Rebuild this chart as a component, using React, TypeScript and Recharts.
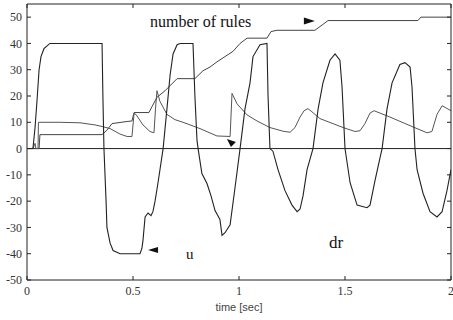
import { LineChart, Line, XAxis, YAxis, ReferenceLine, ReferenceDot } from 'recharts';

// control signal u (saturated at +/-40, then oscillating)
const uTime = [0, 0.028, 0.038, 0.047, 0.057, 0.066, 0.08, 0.108, 0.344, 0.354, 0.358, 0.363, 0.373, 0.377, 0.392, 0.406, 0.439, 0.533, 0.542, 0.547, 0.557, 0.571, 0.585, 0.594, 0.604, 0.618, 0.642, 0.66, 0.675, 0.689, 0.708, 0.722, 0.783, 0.792, 0.802, 0.807, 0.825, 0.849, 0.868, 0.887, 0.91, 0.92, 0.934, 0.958, 0.981, 1.005, 1.028, 1.052, 1.066, 1.099, 1.132, 1.137, 1.146, 1.16, 1.184, 1.217, 1.25, 1.274, 1.288, 1.302, 1.321, 1.349, 1.373, 1.396, 1.429, 1.453, 1.476, 1.486, 1.5, 1.524, 1.557, 1.604, 1.618, 1.642, 1.665, 1.675, 1.698, 1.722, 1.759, 1.783, 1.807, 1.816, 1.83, 1.84, 1.868, 1.901, 1.934, 1.958, 1.981, 2.0];
const uValues = [0, 0, 8, 18, 30, 35, 38, 40, 40, 40, 20, 0, -20, -30, -36, -38.8, -40, -40, -38, -35, -26, -24.5, -25.5, -24, -20, -13, 0, 15, 28, 36, 39.5, 40, 40, 20, 3, 0, -9.5, -13.3, -18, -23.6, -27, -33, -32, -29, -15, 0, 15, 25, 35, 39.5, 40, 20, 0, -1, -8, -16, -21.5, -24, -23, -18, -8, 0, 15, 25, 33.6, 36, 33.6, 23.5, 0, -13, -21.5, -22.5, -21.5, -12, -3.5, 0, 15, 25, 32, 32.7, 31, 23.5, 0, -8, -17, -24, -26, -24, -16, -8];

// dr (sawtooth)
const drTime = [0, 0.028, 0.038, 0.042, 0.052, 0.054, 0.156, 0.25, 0.321, 0.354, 0.392, 0.439, 0.472, 0.495, 0.505, 0.514, 0.547, 0.58, 0.599, 0.606, 0.613, 0.627, 0.66, 0.698, 0.736, 0.816, 0.896, 0.958, 0.967, 0.991, 1.038, 1.085, 1.146, 1.208, 1.241, 1.264, 1.288, 1.307, 1.325, 1.344, 1.382, 1.491, 1.547, 1.571, 1.594, 1.618, 1.637, 1.712, 1.807, 1.887, 1.91, 1.934, 1.958, 1.976, 2.0];
const drValues = [0, 0, 2, 0, 0, 10, 10, 9.8, 9, 8.4, 7.6, 5.5, 4.6, 4.6, 13.3, 13, 9, 6.5, 6, 15, 22, 18, 13, 11, 10, 7.6, 4.8, 4.6, 21, 17, 12.8, 10.5, 8, 6.6, 6.2, 8, 12, 14.4, 15.2, 14, 11.4, 8, 6.5, 6.8, 9.5, 13.5, 14.4, 12, 8.7, 6, 6.5, 13, 16.3, 15.5, 14.4];

// number of rules
const rulesTime = [0, 0.057, 0.061, 0.354, 0.377, 0.401, 0.472, 0.495, 0.505, 0.575, 0.59, 0.613, 0.651, 0.708, 0.792, 0.83, 0.863, 0.896, 0.934, 0.972, 1.005, 1.038, 1.132, 1.151, 1.179, 1.358, 1.392, 1.42, 1.844, 1.858, 2.0];
const rulesValues = [0, 0, 5.3, 5.3, 7, 9.5, 10.3, 10.5, 13.7, 13.7, 16, 19.5, 22, 26.6, 26.6, 29.6, 31, 33, 35, 37, 40, 42, 42, 44.5, 45, 45, 47, 48.7, 48.7, 50, 50];

const xTicks = [0, 0.5, 1, 1.5, 2];
const xTickLabels = ['0', '0.5', '1', '1.5', '2'];
const yTicks = [-50, -40, -30, -20, -10, 0, 10, 20, 30, 40, 50];

const uData = uTime.map((t, i) => ({ t, v: uValues[i] }));
const drData = drTime.map((t, i) => ({ t, v: drValues[i] }));
const rulesData = rulesTime.map((t, i) => ({ t, v: rulesValues[i] }));

const tickFont = { fontFamily: 'Liberation Serif', fontSize: 12, fill: '#333' };

const LeftTick = (props: any) => {
  const { x, y, payload } = props;
  const ax = x + 5;
  return (
    <g>
      <line x1={ax} x2={ax + 4} y1={y} y2={y} stroke="#222" />
      <text x={x} y={y} dy="0.35em" textAnchor="end" {...tickFont}>{payload.value}</text>
    </g>
  );
};

const RightTick = (props: any) => {
  const { x, y } = props;
  return <line x1={x} x2={x - 4} y1={y} y2={y} stroke="#222" />;
};

const TopTick = (props: any) => {
  const { x, y } = props;
  return <line x1={x} x2={x} y1={y} y2={y + 4} stroke="#222" />;
};

const BottomTick = (props: any) => {
  const { x, y, payload, index } = props;
  const ay = y - 6;
  return (
    <g>
      <line x1={x} x2={x} y1={ay} y2={ay - 4} stroke="#222" />
      <text x={x} y={y} dy="0.71em" textAnchor="middle" {...tickFont}>{xTickLabels[index] ?? payload.value}</text>
    </g>
  );
};

const Triangle = (pts: number[][]) => (props: any) => {
  const { cx, cy } = props;
  const d = pts.map(([a, b]) => `${cx + a},${cy + b}`).join(' ');
  return <polygon points={d} fill="#111" />;
};

const Label = (text: string, size: number) => (props: any) => {
  const { cx, cy } = props;
  return (
    <text x={cx} y={cy} fontFamily="Liberation Serif" fontSize={size} fill="#111">
      {text}
    </text>
  );
};

export default function App() {
  return (
    <div style={{ position: 'absolute', left: 0, top: 0, background: '#fff' }}>
      <LineChart width={453} height={320} margin={{ top: 0, right: 0, bottom: 0, left: 0 }}>
        <XAxis
          dataKey="t"
          type="number"
          domain={[0, 2]}
          ticks={xTicks}
          height={40}
          tickSize={3}
          tickMargin={3}
          tickLine={false}
          axisLine={{ stroke: '#222' }}
          tick={<BottomTick />}
          interval={0}
          allowDataOverflow
          label={{ value: 'time [sec]', position: 'insideBottom', offset: 9, fontFamily: 'Liberation Sans', fontSize: 11, fill: '#444' }}
        />
        <XAxis
          xAxisId="top"
          dataKey="t"
          type="number"
          orientation="top"
          domain={[0, 2]}
          ticks={xTicks}
          height={4}
          tickSize={0}
          tickMargin={0}
          tickLine={false}
          axisLine={{ stroke: '#222' }}
          tick={<TopTick />}
          interval={0}
          allowDataOverflow
        />
        <YAxis
          type="number"
          domain={[-50, 55]}
          ticks={yTicks}
          width={27}
          tickSize={3}
          tickMargin={2}
          tickLine={false}
          axisLine={{ stroke: '#222' }}
          tick={<LeftTick />}
          interval={0}
          allowDataOverflow
        />
        <YAxis
          yAxisId="right"
          orientation="right"
          type="number"
          domain={[-50, 55]}
          ticks={yTicks}
          width={2}
          tickSize={0}
          tickMargin={0}
          tickLine={false}
          axisLine={{ stroke: '#222' }}
          tick={<RightTick />}
          interval={0}
          allowDataOverflow
        />
        <ReferenceLine y={0} stroke="#222" />
        <Line data={rulesData} dataKey="v" type="linear" stroke="#444" strokeWidth={1} dot={false} isAnimationActive={false} />
        <Line data={drData} dataKey="v" type="linear" stroke="#555" strokeWidth={1} dot={false} isAnimationActive={false} />
        <Line data={uData} dataKey="v" type="linear" stroke="#222" strokeWidth={1.1} dot={false} isAnimationActive={false} />
        <ReferenceDot x={0.58} y={46.2} r={0} ifOverflow="visible" shape={Label('number of rules', 16)} />
        <ReferenceDot x={0.75} y={-42} r={0} ifOverflow="visible" shape={Label('u', 15)} />
        <ReferenceDot x={1.425} y={-37.8} r={0} ifOverflow="visible" shape={Label('dr', 17)} />
        <ReferenceDot x={1.358} y={48.5} r={0} ifOverflow="visible" shape={Triangle([[0, 0], [-11, -3.5], [-11, 3.5]])} />
        <ReferenceDot x={0.571} y={-38.6} r={0} ifOverflow="visible" shape={Triangle([[0, 0], [10, -3], [10, 3]])} />
        <ReferenceDot x={0.943} y={3.6} r={0} ifOverflow="visible" shape={Triangle([[0, 0], [9, 3], [4, 8]])} />
      </LineChart>
    </div>
  );
}
